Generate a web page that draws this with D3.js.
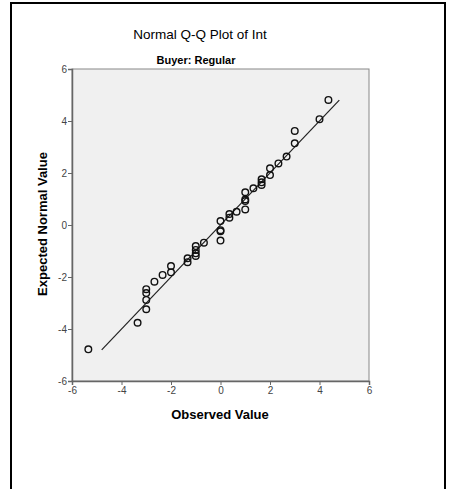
<!DOCTYPE html>
<html>
<head>
<meta charset="utf-8">
<script src="https://cdn.jsdelivr.net/npm/d3@7"></script>
<style>
  body { margin: 0; background: #fff; }
  text { font-family: "Liberation Sans", Arial, sans-serif; }
</style>
</head>
<body>
<svg width="455" height="489"></svg>
<script>
// observed values and their expected normal values
var observed = [-5.34, -3.35, -3, -3, -3, -3, -2.67, -2.34, -2, -2, -1.33, -1.33,
    -1, -1, -1, -1, -0.67, 0, 0, 0, 0, 0.36, 0.36, 0.65, 1, 1, 1, 1,
    1.33, 1.66, 1.66, 1.66, 2, 2, 2.34, 2.67, 3, 3, 4, 4.36];
var expected = [-4.78, -3.76, -3.24, -2.88, -2.62, -2.47, -2.18, -1.92, -1.82, -1.58, -1.43, -1.28,
    -1.19, -1.09, -0.96, -0.81, -0.68, -0.6, -0.24, -0.2, 0.15, 0.28, 0.42, 0.51, 0.6, 0.92, 0.98, 1.26,
    1.41, 1.54, 1.64, 1.76, 1.92, 2.18, 2.37, 2.63, 3.14, 3.62, 4.07, 4.81];
var refLine = [-4.8, 4.8];
var ticks = [-6, -4, -2, 0, 2, 4, 6];

var svg = d3.select("svg");

// outer frame
svg.append("rect")
    .attr("x", 11).attr("y", 3)
    .attr("width", 434).attr("height", 500)
    .attr("fill", "none")
    .attr("stroke", "#000")
    .attr("stroke-width", 2);

var x = d3.scaleLinear().domain([-6, 6]).range([72, 369]);
var y = d3.scaleLinear().domain([-6, 6]).range([381, 69]);

// plot background
svg.append("rect")
    .attr("x", x(-6)).attr("y", y(6))
    .attr("width", x(6) - x(-6)).attr("height", y(-6) - y(6))
    .attr("fill", "#f0f0f0")
    .attr("stroke", "#888")
    .attr("stroke-width", 1);

// titles
svg.append("text")
    .attr("x", 200).attr("y", 39)
    .attr("text-anchor", "middle")
    .style("font-size", "13.5px")
    .text("Normal Q-Q Plot of Int");

svg.append("text")
    .attr("x", 196).attr("y", 64)
    .attr("text-anchor", "middle")
    .attr("font-weight", "bold")
    .style("font-size", "11px")
    .text("Buyer: Regular");

// axes
var yAxis = svg.append("g")
    .attr("transform", "translate(" + x(-6) + ",0)")
    .call(d3.axisLeft(y).tickValues(ticks).tickSize(4).tickPadding(1).tickFormat(d3.format("d")));
var xAxis = svg.append("g")
    .attr("transform", "translate(0," + y(-6) + ")")
    .call(d3.axisBottom(x).tickValues(ticks).tickSize(4).tickPadding(2).tickFormat(d3.format("d")));

[xAxis, yAxis].forEach(function(a) {
    a.select(".domain").attr("stroke", "#666").attr("stroke-width", 1.5);
    a.selectAll(".tick line").attr("stroke", "#666");
    a.selectAll(".tick text")
        .attr("fill", "#444")
        .style("font-family", "'Liberation Sans', Arial, sans-serif")
        .style("font-size", "10px")
        .text(function(d) { return d < 0 ? "-" + Math.abs(d) : d; });
});

svg.append("text")
    .attr("transform", "translate(47," + 224 + ") rotate(-90)")
    .attr("text-anchor", "middle")
    .attr("font-weight", "bold")
    .style("font-size", "13px")
    .text("Expected Normal Value");

svg.append("text")
    .attr("x", 220).attr("y", 419)
    .attr("text-anchor", "middle")
    .attr("font-weight", "bold")
    .style("font-size", "13px")
    .text("Observed Value");

// reference line
svg.append("line")
    .attr("x1", x(refLine[0])).attr("y1", y(refLine[0]))
    .attr("x2", x(refLine[1])).attr("y2", y(refLine[1]))
    .attr("stroke", "#222")
    .attr("stroke-width", 1.2);

// points
svg.selectAll("circle.pt")
    .data(observed)
    .enter().append("circle")
    .attr("class", "pt")
    .attr("cx", function(d) { return x(d); })
    .attr("cy", function(d, i) { return y(expected[i]); })
    .attr("r", 3.3)
    .attr("fill", "none")
    .attr("stroke", "#111")
    .attr("stroke-width", 1.4);
</script>
</body>
</html>
